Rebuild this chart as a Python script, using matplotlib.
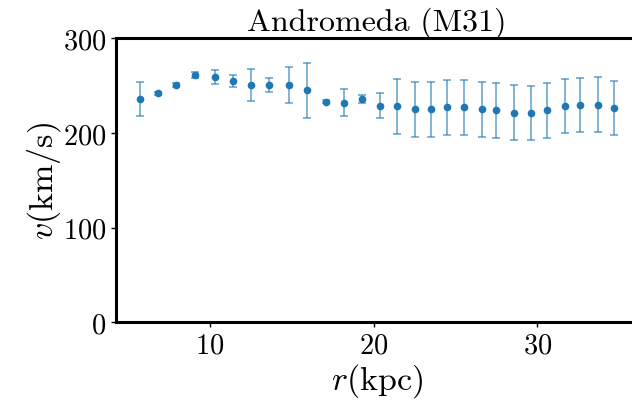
import matplotlib
matplotlib.use("Agg")
import matplotlib.pyplot as plt

plt.rcParams['font.family'] = 'serif'
plt.rcParams['font.serif'] = ['cmr10', 'DejaVu Serif']
plt.rcParams['mathtext.fontset'] = 'cm'
plt.rcParams['axes.formatter.use_mathtext'] = True

# rotation curve of M31
r = [5.7, 6.8, 7.9, 9.1, 10.3, 11.4, 12.5, 13.6, 14.8, 15.9, 17.1, 18.2, 19.3, 20.4,
     21.4, 22.5, 23.5, 24.5, 25.5, 26.6, 27.5, 28.6, 29.6, 30.6, 31.7, 32.6, 33.7, 34.7]
v = [236, 242, 251, 261.5, 259, 255, 251, 251, 251, 245, 233, 232, 236, 229,
     228, 225, 225, 227, 227, 225, 224, 221.5, 221.5, 224, 228, 230, 230, 226.5]
dv = [18, 1.5, 2, 3, 7, 6, 17, 7.5, 19, 29, 1.5, 14, 4, 13.5,
      29, 29, 29, 29, 29, 29, 29, 29, 28.5, 29, 28.5, 28.5, 29, 28.7]

fig = plt.figure(figsize=(6.32, 4.06), dpi=100)
ax = fig.add_axes([0.1835, 0.2037, 0.826, 0.6995])

ax.errorbar(r, v, yerr=dv, fmt='o', ms=4.5, color='C0', ecolor=(0.12, 0.47, 0.71, 0.7),
            elinewidth=1.1, capsize=2.6, capthick=1.1)

ax.set_ylim(0, 300)
ax.set_yticks([0, 100, 200, 300])
ax.set_xticks([10, 20, 30])

for s in ax.spines.values():
    s.set_linewidth(2.2)
ax.tick_params(labelsize=20.5, length=3.5, width=1)

ax.set_xlabel(r'$r(\mathrm{kpc})$', fontsize=24.5, labelpad=2)
ax.set_ylabel(r'$v(\mathrm{km/s})$', fontsize=24.5, labelpad=0)
ax.set_title('Andromeda (M31)', fontsize=23, pad=3)

fig.savefig('out.png', dpi=100)
